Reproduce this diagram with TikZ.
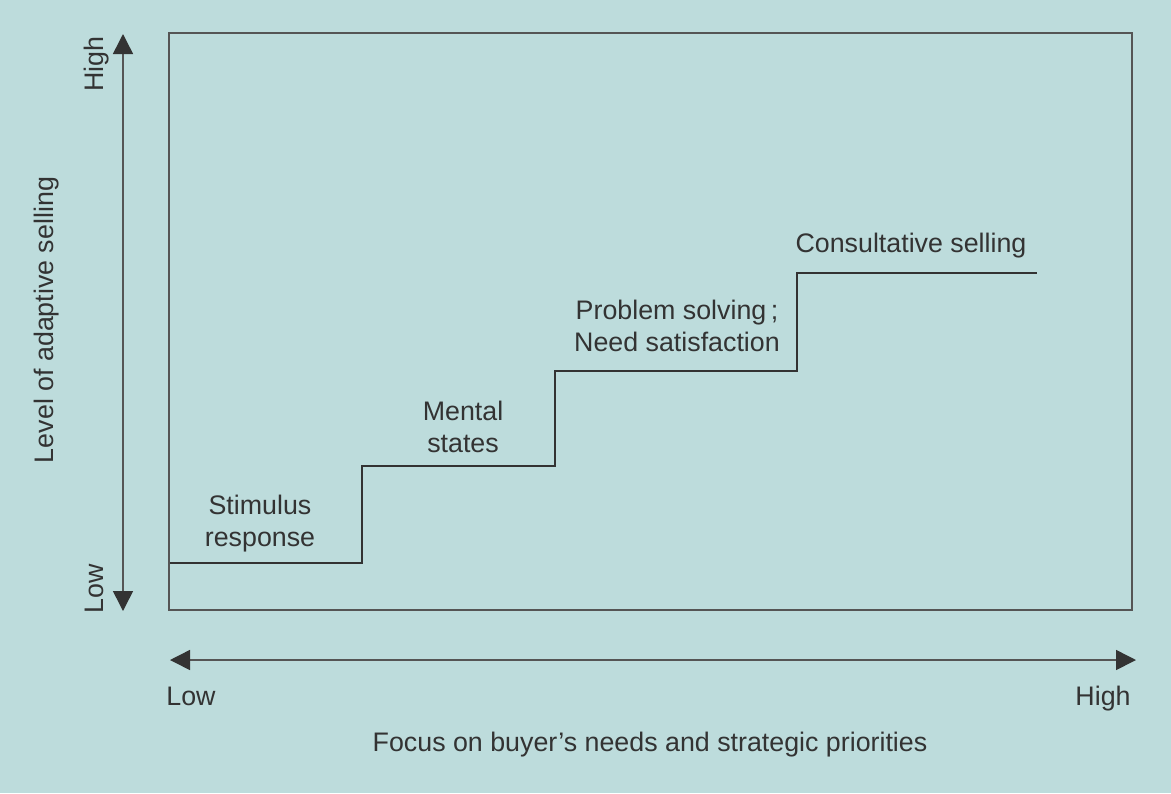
\documentclass[tikz,border=0pt]{standalone}
\usepackage{fontspec}
\setmainfont{Liberation Sans}
\usetikzlibrary{arrows.meta}
\definecolor{fondo}{HTML}{BDDCDC}
\definecolor{tinta}{HTML}{333333}
\definecolor{linea}{HTML}{555555}
\tikzset{%
    sec/.style={line width = 0.75pt, draw=linea},
    esc/.style={line width = 0.75pt, draw=tinta},
    eje/.style={line width = 0.75pt, draw=linea, {Triangle[length=10pt,width=10pt,color=tinta]}-{Triangle[length=10pt,width=10pt,color=tinta]}},
    txt/.style={text=tinta, inner sep=0pt, font=\fontsize{13.4}{16}\selectfont, align=center}
}

\begin{document}
\begin{tikzpicture}[x=0.5pt,y=-0.5pt]
    \fill[fondo] (0,0) rectangle (1171,793);
    \useasboundingbox (0,0) rectangle (1171,793);
    \draw [sec](169,33) rectangle (1132,610);
    % ejes
    \coordinate (Vt) at (123,34);
    \coordinate (Vb) at (123,611);
    \coordinate (Hl) at (170,660);
    \coordinate (Hr) at (1136,660);
    \draw [eje](Vb)--(Vt);
    \draw [eje](Hl)--(Hr);
    \node[txt,rotate=90,anchor=base] (vhigh) at (103,64) {High};
    \node[txt,rotate=90,anchor=base] (vlow) at (103,589) {Low};
    \node[txt,rotate=90] (vlab) at (47,320) {Level of adaptive selling};
    \node[txt,anchor=base] (hlow) at (191,705) {Low};
    \node[txt,anchor=base] (hhigh) at (1103,705) {High};
    \node[txt] (hlab) at (650,745) {Focus on buyer’s needs and strategic priorities};
    % escalera
    \draw [esc](170,563)-|(362,466)-|(555,371)-|(797,273)--(1037,273);
    \node[txt] (stim) at (260,524) {Stimulus\\response};
    \node[txt] (ment) at (463,427) {Mental\\states};
    \node[txt] (prob) at (677,326) {Problem solving\,;\\Need satisfaction};
    \node[txt] (cons) at (911,246) {Consultative selling};
\end{tikzpicture}
\end{document}
